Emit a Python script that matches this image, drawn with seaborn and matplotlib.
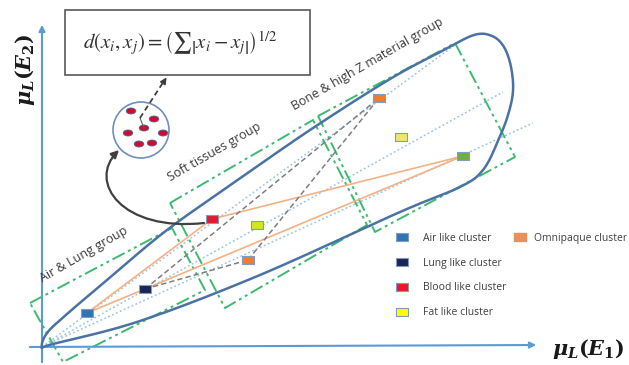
import numpy as np
import pandas as pd
import matplotlib
matplotlib.use('Agg')
import matplotlib.pyplot as plt
import seaborn as sns
from matplotlib.path import Path
from matplotlib.patches import Circle, Rectangle, FancyArrowPatch, Ellipse
from matplotlib.lines import Line2D

# cluster centroids in (mu_L(E1), mu_L(E2)) units, origin at the axes crossing
cluster_ids = ['air', 'lung', 'blood', 'fat', 'omni_low', 'omni_high', 'fat_high', 'bone']
mu_e1 = [45, 103, 170, 215, 206, 337, 359, 421]
mu_e2 = [34, 58, 128, 122, 87, 249, 210, 191]
cluster_colors = ['#2e75b6', '#1b2452', '#e8192c', '#d2e61e', '#ed7d31', '#ed7d31', '#f2e36b', '#70ad47']

legend_labels = ['Air like cluster', 'Lung like cluster', 'Blood like cluster', 'Fat like cluster']
legend_colors = ['#2e75b6', '#1b2452', '#e8192c', '#ffff00']
omni_label = 'Omnipaque cluster'
omni_color = '#e8925a'

group_labels = ['Air & Lung group', 'Soft tissues group', 'Bone & high Z material group']

orange_links = [('air', 'lung'), ('air', 'blood'), ('lung', 'bone'), ('blood', 'bone')]
grey_links = [('lung', 'omni_low'), ('lung', 'omni_high'), ('omni_low', 'omni_high')]

# samples inside the zoomed cluster
sample_x = [89, 112, 102, 86, 121, 97, 110]
sample_y = [236, 228, 219, 214, 214, 203, 204]

formula = r'$d(x_i,x_j)=\left(\sum\left|x_i-x_j\right|\right)^{1/2}$'

# ---- layout (schematic geometry) ----
outline_pts = [(0, 0), (11, 3), (98, 26), (218, 72), (358, 135), (418, 160), (441, 177),
               (456, 206), (466, 232), (471, 256), (469, 280), (462, 300), (450, 311),
               (432, 312), (400, 296), (348, 268), (271, 219), (200, 170), (125, 117),
               (65, 67), (25, 33), (5, 14)]
ray_ends = [(413, 302), (461, 255), (491, 224)]
group_boxes = [
    [(-12, 44), (130, 119), (163, 57), (21, -15)],
    [(128, 144), (271, 227), (325, 122), (183, 39)],
    [(276, 231), (413, 304), (473, 190), (333, 115)],
]
group_text_pos = [(42, 92), (172, 195), (325, 283)]


def catmull_rom(pts, n=24):
    pts = np.asarray(pts, float)
    P = np.vstack([pts[-1], pts, pts[0], pts[1]])
    t = np.linspace(0, 1, n, endpoint=False)[:, None]
    out = []
    for i in range(1, len(P) - 2):
        p0, p1, p2, p3 = P[i - 1], P[i], P[i + 1], P[i + 2]
        out.append(0.5 * (2 * p1 + (-p0 + p2) * t + (2 * p0 - 5 * p1 + 4 * p2 - p3) * t ** 2
                          + (-p0 + 3 * p1 - 3 * p2 + p3) * t ** 3))
    out = np.vstack(out)
    return np.vstack([out, out[:1]])


sns.set_theme(style='white')
plt.rcParams['font.family'] = ['Open Sans', 'DejaVu Sans']
plt.rcParams['mathtext.fontset'] = 'custom'
plt.rcParams['mathtext.it'] = 'DejaVu Serif:italic:bold'
plt.rcParams['mathtext.rm'] = 'DejaVu Serif:bold'

df = pd.DataFrame({'id': cluster_ids, 'e1': mu_e1, 'e2': mu_e2})
pos = dict(zip(cluster_ids, zip(mu_e1, mu_e2)))

fig = plt.figure(figsize=(6.29, 3.65), dpi=100)
ax = fig.add_axes([0, 0, 1, 1])
ax.set_xlim(-42, 587)
ax.set_ylim(-18, 347)
ax.axis('off')

axis_col = '#5b9bd5'
ax.annotate('', xy=(0, 325), xytext=(0, -18),
            arrowprops=dict(arrowstyle='-|>', color=axis_col, lw=1.5, mutation_scale=9))
ax.annotate('', xy=(497, 2), xytext=(-15, 0),
            arrowprops=dict(arrowstyle='-|>', color=axis_col, lw=1.5, mutation_scale=9))
ax.text(-17, 277, r'$\mu_L(E_2)$', rotation=90, ha='center', va='center', fontsize=15, color='#1a1a1a')
ax.text(546, -2, r'$\mu_L(E_1)$', ha='center', va='center', fontsize=15, color='#1a1a1a')

# rays from the origin
for ex, ey in ray_ends:
    ax.plot([0, ex], [0, ey], color='#9dc3e6', lw=1.1, ls=(0, (1.2, 1.6)), zorder=1)

# envelope
curve = catmull_rom(outline_pts)
ax.plot(curve[:, 0], curve[:, 1], color='#4a72a4', lw=1.8, zorder=3)

# group boxes
for box in group_boxes:
    b = np.array(box + [box[0]])
    ax.plot(b[:, 0], b[:, 1], color='#3cba6f', lw=1.4, ls=(0, (7, 2, 1.5, 2, 1.5, 2)), zorder=2)

for (tx, ty), lab in zip(group_text_pos, group_labels):
    ax.text(tx, ty, lab, rotation=30, rotation_mode='anchor', ha='center', va='center',
            fontsize=9, color='#3a3a3a')

# links
for a, b in orange_links:
    ax.plot([pos[a][0], pos[b][0]], [pos[a][1], pos[b][1]], color='#f4b183', lw=1.2, zorder=4)
for a, b in grey_links:
    ax.plot([pos[a][0], pos[b][0]], [pos[a][1], pos[b][1]], color='#7f7f7f', lw=1.1,
            ls=(0, (3.5, 2)), zorder=4)

rect_marker = Path([(-1, -0.68), (1, -0.68), (1, 0.68), (-1, 0.68), (-1, -0.68)],
                   [Path.MOVETO, Path.LINETO, Path.LINETO, Path.LINETO, Path.CLOSEPOLY])
sns.scatterplot(data=df, x='e1', y='e2', hue='id', palette=cluster_colors, marker=rect_marker,
                s=75, edgecolor='#7f9cc4', linewidth=0.8, legend=False, zorder=6, ax=ax)

# zoomed cluster
ax.add_patch(Circle((99, 217), 28, fill=False, ec='#6d8fbf', lw=1.2, zorder=5))
for sx, sy in zip(sample_x, sample_y):
    ax.add_patch(Ellipse((sx, sy), 9.5, 6, fc='#c8102e', ec='#5060a0', lw=0.6, zorder=6))
ax.plot([98, 102], [229, 219], color='#606060', lw=0.8, zorder=6)
ax.plot([98, 122], [229, 266], color='#404040', lw=1.3, ls=(0, (3, 2)), zorder=6)
ax.annotate('', xy=(126, 272), xytext=(121, 264),
            arrowprops=dict(arrowstyle='-|>', color='#404040', lw=1.2, mutation_scale=9))

# formula box
ax.add_patch(Rectangle((23, 272), 245, 65, fill=False, ec='#595959', lw=1.2))
ax.text(138, 304, formula, ha='center', va='center', fontsize=15, color='#333333',
        math_fontfamily='stix')

# curved arrow from blood cluster to the zoom circle
bx, by = pos['blood']
arc = Path([(bx - 8, by - 4), (80, 115), (45, 165), (77, 197)],
           [Path.MOVETO, Path.CURVE4, Path.CURVE4, Path.CURVE4])
ax.add_patch(FancyArrowPatch(path=arc, arrowstyle='-|>', mutation_scale=11, color='#404040',
                             lw=1.6, zorder=5))

# legend
handles = [Line2D([], [], ls='none', marker=rect_marker, ms=9, mfc=c, mec='#7f9cc4', mew=0.8)
           for c in legend_colors]
leg1 = ax.legend(handles, legend_labels, loc='upper left', bbox_to_anchor=(355, 114),
                 bbox_transform=ax.transData, frameon=False, fontsize=7.5, handlelength=1.0,
                 handletextpad=1.5, labelspacing=1.32, borderpad=0, borderaxespad=0,
                 labelcolor='#404040')
ax.add_artist(leg1)
omni_h = [Line2D([], [], ls='none', marker=rect_marker, ms=9, mfc=omni_color, mec=omni_color)]
ax.legend(omni_h, [omni_label], loc='upper left', bbox_to_anchor=(473, 114),
          bbox_transform=ax.transData, frameon=False, fontsize=7.5, handlelength=1.0,
          handletextpad=0.8, borderpad=0, borderaxespad=0, labelcolor='#404040')

fig.savefig('out.png', dpi=100)
